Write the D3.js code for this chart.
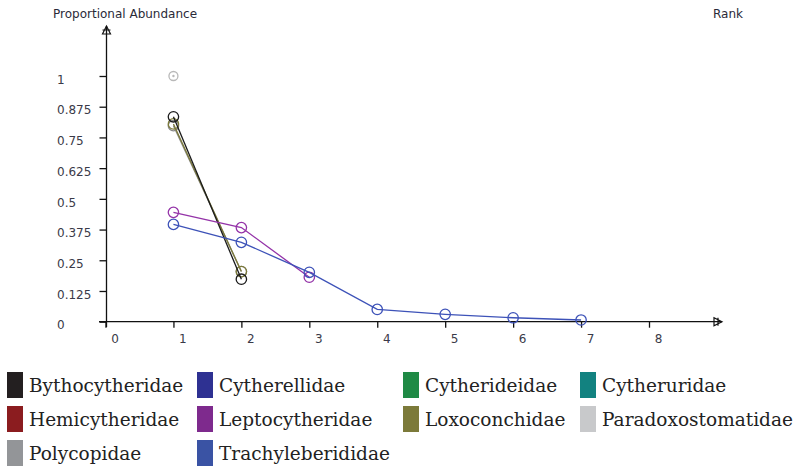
<!DOCTYPE html>
<html><head><meta charset="utf-8">
<script src="https://cdn.jsdelivr.net/npm/d3@7"></script>
<style>body{margin:0;background:#fff}svg{display:block}</style>
</head><body>
<svg id="c" width="802" height="469"></svg>
<script>
const families = ["Bythocytheridae","Cytherellidae","Cytherideidae","Cytheruridae","Hemicytheridae","Leptocytheridae","Loxoconchidae","Paradoxostomatidae","Polycopidae","Trachyleberididae"];
const legendColors = ["#231f20","#2e3192","#1f8a45","#128280","#8b1c1f","#7e2a8d","#7c7a3a","#c8c9cb","#939598","#3a53a4"];
const lineColors = {"Bythocytheridae":"#1a1a1a","Polycopidae":"#8a8a8a","Loxoconchidae":"#7c7a3a","Leptocytheridae":"#9433a8","Trachyleberididae":"#3d52b8","Paradoxostomatidae":"#b8b8b8"};
// rank-abundance values (rank 1..n)
const bythocytheridae = [0.834, 0.173];
const polycopidae = [0.798, 0.204];
const loxoconchidae = [0.805, 0.204];
const leptocytheridae = [0.445, 0.383, 0.181];
const trachyleberididae = [0.396, 0.323, 0.201, 0.050, 0.030, 0.016, 0.007];
const paradoxostomatidae = [1.0];
const xTicks = [0,1,2,3,4,5,6,7,8];
const yTicks = [0,0.125,0.25,0.375,0.5,0.625,0.75,0.875,1];
const yTickLabels = ["0","0.125","0.25","0.375","0.5","0.625","0.75","0.875","1"];
const seriesOrder = [
  ["Polycopidae", polycopidae],
  ["Loxoconchidae", loxoconchidae],
  ["Bythocytheridae", bythocytheridae],
  ["Paradoxostomatidae", paradoxostomatidae],
  ["Leptocytheridae", leptocytheridae],
  ["Trachyleberididae", trachyleberididae]
];

const svg = d3.select("#c");
const x = d3.scaleLinear().domain([0,8]).range([105.5,649]);
const y = d3.scaleLinear().domain([0,1]).range([321.7,76]);
const axisCol = "#111";
const labelFont = "DejaVu Sans, Verdana, sans-serif";

// Y axis
const ya = svg.append("g").attr("transform",`translate(${x(0)+1},0)`)
  .call(d3.axisLeft(y).tickValues(yTicks).tickFormat((d,i)=>yTickLabels[i]).tickSize(7).tickSizeOuter(0));
ya.select(".domain").remove();
ya.selectAll(".tick line").attr("stroke",axisCol).attr("stroke-width",1.3);
ya.selectAll(".tick text").attr("x",-(x(0)+1-57)).attr("text-anchor","start").attr("dy","0.6em")
  .attr("font-family",labelFont).attr("font-size",12).attr("fill","#3a3a48");
svg.append("line").attr("x1",x(0)+1).attr("x2",x(0)+1).attr("y1",327).attr("y2",26).attr("stroke",axisCol).attr("stroke-width",1.3);
svg.append("path").attr("d",`M${x(0)+1},26 L${x(0)-3},34 L${x(0)+5},34 Z M${x(0)-3},30 L${x(0)+5},30`).attr("fill","none").attr("stroke",axisCol).attr("stroke-width",1.2);

// X axis
const xa = svg.append("g").attr("transform",`translate(0,${y(0)})`)
  .call(d3.axisBottom(x).tickValues(xTicks).tickFormat(d3.format("d")).tickSize(6).tickSizeOuter(0));
xa.select(".domain").remove();
xa.selectAll(".tick line").attr("stroke",axisCol).attr("stroke-width",1.3);
xa.selectAll(".tick text").attr("x",9).attr("y",13).attr("dy","0.71em")
  .attr("font-family",labelFont).attr("font-size",12).attr("fill","#3a3a48");
svg.append("line").attr("x1",99).attr("x2",722).attr("y1",y(0)).attr("y2",y(0)).attr("stroke",axisCol).attr("stroke-width",1.3);
svg.append("path").attr("d",`M722,${y(0)} L714,${y(0)-4} L714,${y(0)+4} Z M718,${y(0)-4} L718,${y(0)+4}`).attr("fill","none").attr("stroke",axisCol).attr("stroke-width",1.2);

// Axis titles
svg.append("text").attr("x",53).attr("y",18).text("Proportional Abundance")
  .attr("font-family",labelFont).attr("font-size",12).attr("fill","#2a2a38");
svg.append("text").attr("x",713).attr("y",18).text("Rank")
  .attr("font-family",labelFont).attr("font-size",12).attr("fill","#2a2a38");

// Series
const line = d3.line().x((d,i)=>x(i+1)).y(d=>y(d));
seriesOrder.forEach(([name, vals])=>{
  const col = lineColors[name];
  const g = svg.append("g");
  if (vals.length>1) g.append("path").attr("d",line(vals)).attr("fill","none").attr("stroke",col).attr("stroke-width",1.3);
  g.selectAll("circle").data(vals).join("circle")
    .attr("cx",(d,i)=>x(i+1)).attr("cy",d=>y(d)).attr("r", name==="Paradoxostomatidae"?4.5:5.2)
    .attr("fill","none").attr("stroke",col).attr("stroke-width",1.3);
  if (name==="Paradoxostomatidae") g.selectAll("circle.dot").data(vals).join("circle").attr("class","dot")
    .attr("cx",(d,i)=>x(i+1)).attr("cy",d=>y(d)).attr("r",1.2).attr("fill",col);
});

// Legend
const colX = [7,197,403,580];
const rowY = [372,406,440];
const leg = svg.append("g");
families.forEach((f,i)=>{
  let col, row;
  if (i<8){ row = Math.floor(i/4); col = i%4; } else { row = 2; col = i-8; }
  const g = leg.append("g").attr("transform",`translate(${colX[col]},${rowY[row]})`);
  g.append("rect").attr("x",0).attr("y",0).attr("width",16).attr("height",26).attr("fill",legendColors[i]);
  g.append("text").attr("x",22).attr("y",20).text(f)
    .attr("font-family","'DejaVu Serif', 'Liberation Serif', serif").attr("font-size",18.5).attr("fill","#222");
});
</script>
</body></html>
